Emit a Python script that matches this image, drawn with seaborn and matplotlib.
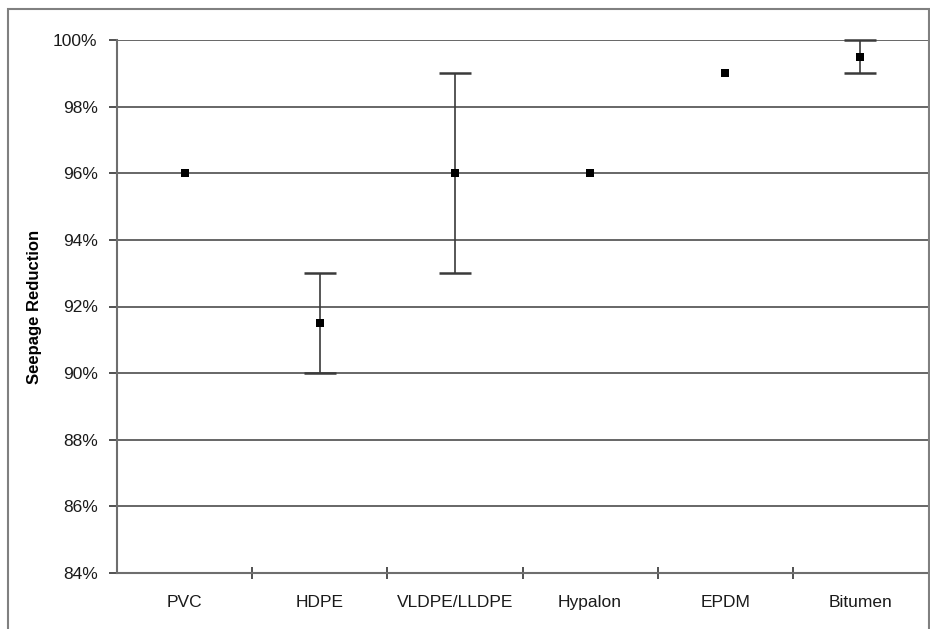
import numpy as np
import pandas as pd
import matplotlib
matplotlib.use("Agg")
import matplotlib.pyplot as plt
from matplotlib.patches import Rectangle
from matplotlib.ticker import FixedLocator, FuncFormatter
import seaborn as sns

# Data
materials = ["PVC", "HDPE", "VLDPE/LLDPE", "Hypalon", "EPDM", "Bitumen"]
reduction = [96.0, 91.5, 96.0, 96.0, 99.0, 99.5]
low = [96.0, 90.0, 93.0, 96.0, 99.0, 99.0]
high = [96.0, 93.0, 99.0, 96.0, 99.0, 100.0]

df = pd.DataFrame({"material": materials, "reduction": reduction, "low": low, "high": high})

sns.set_theme(style="white")
plt.rcParams["font.family"] = ["Liberation Sans", "DejaVu Sans"]

fig = plt.figure(figsize=(9.3, 6.29), dpi=100)
ax = fig.add_axes([117 / 930, 56 / 629, 811 / 930, 533 / 629])

# outer chart frame
fig.patches.append(Rectangle((8 / 930, -0.05), 921 / 930, 0.05 + 620 / 629,
                             transform=fig.transFigure, fill=False,
                             edgecolor="#808080", linewidth=1.5, zorder=0))

x = np.arange(len(materials))
yerr = np.array([df["reduction"] - df["low"], df["high"] - df["reduction"]])
has_err = yerr.sum(axis=0) > 0
eb = ax.errorbar(x[has_err], df["reduction"][has_err], yerr=yerr[:, has_err], fmt="none",
                 ecolor="#3a3a3a", elinewidth=1.2, capsize=11.5, capthick=1.8, zorder=3)
for art in eb.lines[1] + eb.lines[2]:
    art.set_clip_on(False)

sns.scatterplot(x=x, y=df["reduction"], marker="s", s=36, color="black",
                edgecolor="black", linewidth=0, ax=ax, zorder=4)

ax.set_xlim(-0.5, len(materials) - 0.5)
ax.set_ylim(84, 100)
ax.set_yticks(np.arange(84, 101, 2))
ax.yaxis.set_major_formatter(FuncFormatter(lambda v, _: f"{v:.0f}%"))
ax.grid(axis="y", color="#666666", linewidth=1.4)
ax.set_axisbelow(True)

# category separators as major ticks, names centred as minor ticks
ax.xaxis.set_major_locator(FixedLocator(x[:-1] + 0.5))
ax.xaxis.set_major_formatter(FuncFormatter(lambda v, _: ""))
ax.xaxis.set_minor_locator(FixedLocator(x))
ax.set_xticklabels(materials, minor=True)
ax.tick_params(axis="x", which="major", bottom=True, direction="inout", length=9,
               width=1.2, color="#333333")
ax.tick_params(axis="x", which="minor", bottom=True, length=0, pad=16, labelsize=12.5,
               labelcolor="#1a1a1a")
ax.tick_params(axis="y", direction="out", length=6, width=1.2, color="#333333",
               pad=8, labelsize=12.5, labelcolor="#1a1a1a", left=True)

for side in ["top", "right"]:
    ax.spines[side].set_visible(False)
for side in ["left", "bottom"]:
    ax.spines[side].set_color("#6e6e6e")
    ax.spines[side].set_linewidth(1.5)

ax.set_xlabel("")
ax.set_ylabel("Seepage Reduction", fontsize=12, fontweight="bold", color="black")
ax.yaxis.set_label_coords(-0.092, 0.5)

fig.savefig("out.png", dpi=100)
